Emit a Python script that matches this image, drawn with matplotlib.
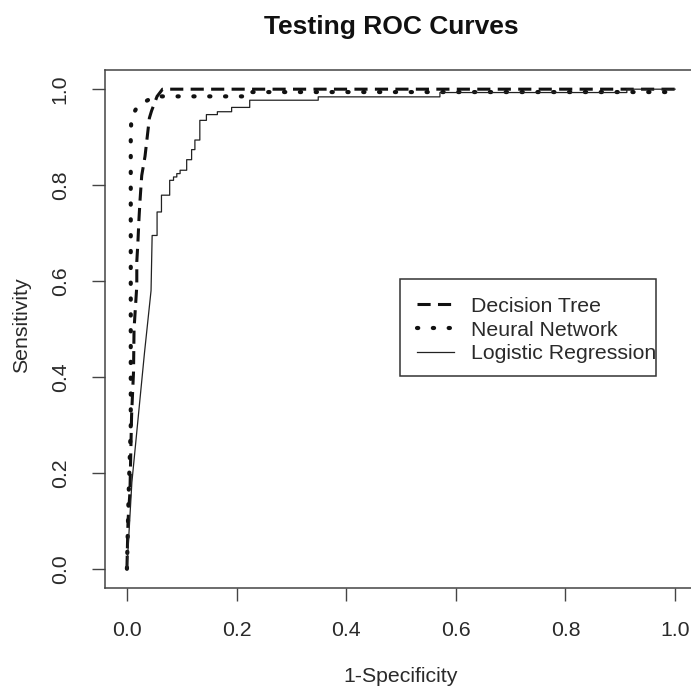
import numpy as np
import matplotlib
matplotlib.use('Agg')
import matplotlib.pyplot as plt
from matplotlib.patches import Rectangle

plt.rcParams['font.family'] = ['Liberation Sans', 'DejaVu Sans']

# ROC points (1-specificity, sensitivity)
tree_fpr = [0, 0.002, 0.0055, 0.007, 0.0085, 0.012, 0.013, 0.018, 0.018, 0.02, 0.022, 0.024,
            0.027, 0.033, 0.037, 0.041, 0.045, 0.055, 0.065, 1.0]
tree_tpr = [0, 0.10, 0.16, 0.24, 0.32, 0.41, 0.50, 0.59, 0.64, 0.68, 0.73, 0.77,
            0.82, 0.86, 0.90, 0.94, 0.955, 0.985, 1.0, 1.0]

nn_fpr = [0, 0.003, 0.007, 0.007, 0.008, 0.018, 0.033, 0.051, 0.228, 0.228, 1.0]
nn_tpr = [0, 0.15, 0.30, 0.90, 0.94, 0.962, 0.974, 0.985, 0.985, 0.994, 0.994]

lr_fpr = [0, 0.009, 0.032, 0.044, 0.046, 0.055, 0.055, 0.063, 0.063, 0.078, 0.078, 0.085, 0.085,
          0.091, 0.091, 0.097, 0.097, 0.109, 0.109, 0.118, 0.118, 0.124, 0.124, 0.133, 0.133,
          0.145, 0.145, 0.165, 0.165, 0.191, 0.191, 0.224, 0.224, 0.349, 0.349, 0.571, 0.571,
          0.912, 0.912, 1.0]
lr_tpr = [0, 0.18, 0.45, 0.58, 0.695, 0.695, 0.744, 0.744, 0.779, 0.779, 0.81, 0.81, 0.817,
          0.817, 0.824, 0.824, 0.831, 0.831, 0.853, 0.853, 0.874, 0.874, 0.894, 0.894, 0.935,
          0.935, 0.947, 0.947, 0.953, 0.953, 0.962, 0.962, 0.977, 0.977, 0.984, 0.984, 0.993,
          0.993, 1.0, 1.0]

labels = ['Decision Tree', 'Neural Network', 'Logistic Regression']
ticks = [0.0, 0.2, 0.4, 0.6, 0.8, 1.0]

ink = '#2a2a2a'
fig = plt.figure(figsize=(6.91, 6.91), dpi=100)
ax = fig.add_axes([105 / 691, 103 / 691, 592 / 691, 518 / 691])

ax.plot(tree_fpr, tree_tpr, color='#111111', lw=2.2, linestyle=(0, (4.3, 2.4)), label=labels[0])
ax.plot(nn_fpr, nn_tpr, color='#111111', lw=3.0, linestyle=(0, (0.3, 3.5)),
        dash_capstyle='round', label=labels[1])
ax.plot(lr_fpr, lr_tpr, color='#222222', lw=0.9, label=labels[2])

ax.set_xlim(-0.04, 1.04)
ax.set_ylim(-0.04, 1.04)
ax.set_xticks(ticks)
ax.set_yticks(ticks)
ax.set_xticklabels(['%.1f' % t for t in ticks])
ax.set_yticklabels(['%.1f' % t for t in ticks], rotation=90, va='center')
ax.tick_params(direction='out', length=9.4, width=1, color='#444444', labelcolor=ink,
               labelsize=15.3)
ax.tick_params(axis='x', pad=14)
ax.tick_params(axis='y', pad=16)
for s in ax.spines.values():
    s.set_color('#444444')
    s.set_linewidth(1.1)

fig.text(22 / 691, 1 - 325 / 691, 'Sensitivity', rotation=90, ha='center', va='center',
         fontsize=15.3, color=ink)
fig.text(401 / 691, 1 - 677 / 691, '1-Specificity', ha='center', va='center',
         fontsize=15.3, color=ink)
fig.text(391 / 691, 1 - 27 / 691, 'Testing ROC Curves', ha='center', va='center',
         fontsize=19, fontweight='bold', color='#111111')

ax.add_patch(Rectangle((0.498, 0.409), 0.433, 0.187, transform=ax.transAxes, fill=False,
                       edgecolor='#333333', lw=1.1))
ax.legend(loc='upper left', bbox_to_anchor=(0.527, 0.562), frameon=False, borderpad=0,
          borderaxespad=0, handlelength=1.75, handletextpad=0.8, labelspacing=0.22,
          fontsize=15.3, labelcolor=ink)

fig.savefig('out.png', dpi=100)
